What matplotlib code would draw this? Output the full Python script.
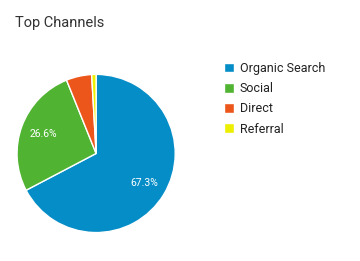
import matplotlib
matplotlib.use('Agg')
import matplotlib.pyplot as plt

# data
channels = ['Organic Search', 'Social', 'Direct', 'Referral']
shares = [67.3, 26.6, 5.2, 0.9]
colors = ['#058DC7', '#50B432', '#ED561B', '#EDEF00']

plt.rcParams['font.family'] = ['Roboto', 'DejaVu Sans']

fig = plt.figure(figsize=(3.6, 2.61), dpi=100)
ax = fig.add_axes([0.045, 0.106, 0.444, 0.612])

def fmt(p):
    # only label the big slices
    return f'{p:.1f}%' if p > 10 else ''

wedges, _, autotexts = ax.pie(shares, colors=colors, startangle=90, counterclock=False,
                              autopct=fmt, pctdistance=0.71,
                              wedgeprops=dict(edgecolor='white', linewidth=1),
                              textprops=dict(color='white', fontsize=7.5))
ax.set_aspect('equal')
ax.set_xlim(-1.01, 1.01)
ax.set_ylim(-1.01, 1.01)

fig.text(0.042, 0.91, 'Top Channels', fontsize=10.5, color='#333333', va='center')

fig.legend(wedges, channels, loc='upper left', bbox_to_anchor=(0.605, 0.787),
           frameon=False, fontsize=9, handlelength=0.8, handleheight=0.8,
           handletextpad=0.45, labelspacing=0.58, borderpad=0, labelcolor='#222222')

fig.savefig('out.png', dpi=100)
